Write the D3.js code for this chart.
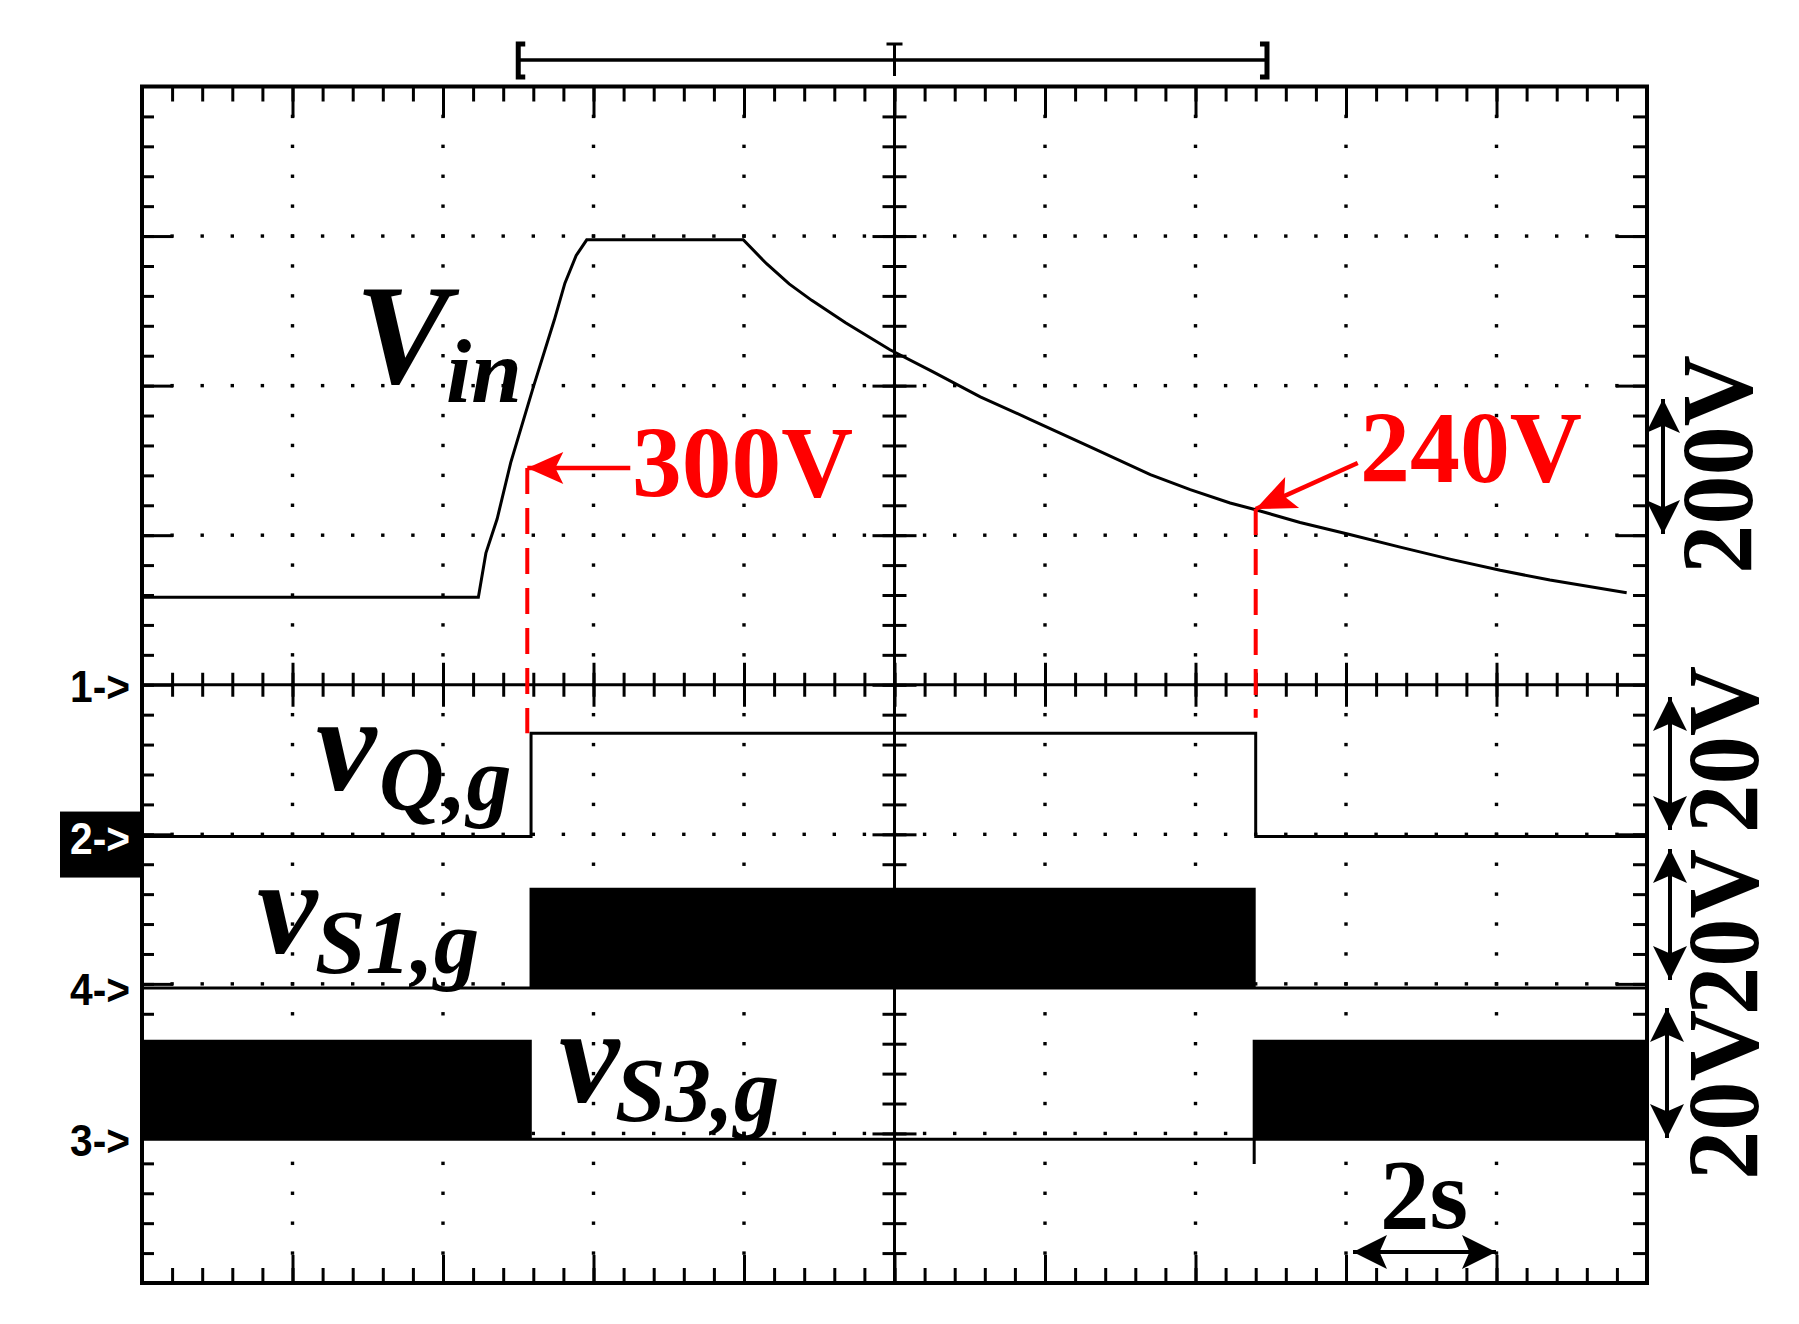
<!DOCTYPE html>
<html>
<head>
<meta charset="utf-8">
<script src="https://cdn.jsdelivr.net/npm/d3@7"></script>
<style>
  body { margin: 0; background: #fff; }
  svg { display: block; }
</style>
</head>
<body>
<svg id="scope" width="1799" height="1324"></svg>
<script>
// 数据（时间单位 s，电压单位 V）
const timeRange = [0, 20]
const vinTime = [0, 4.47, 4.57, 4.72, 4.9, 5.2, 5.48, 5.62, 5.77, 5.91, 7.99, 8.3, 8.6, 8.9, 9.35, 9.94,
  10.5, 11.14, 11.8, 12.6, 13.4, 13.93, 14.46, 14.8, 15.39, 16.05, 16.72, 17.38, 18.05, 18.71, 19.73]
const vinVolt = [117, 117, 176, 222, 297, 398, 488, 537, 574, 595, 595, 563, 536, 514, 484, 448,
  419, 385, 355, 318, 281, 261, 243, 234, 217, 201, 184, 168, 153, 140, 123]
const vqTime = [0, 5.17, 5.17, 14.8, 14.8, 20]
const vqVolt = [0, 0, 13.8, 13.8, 0, 0]
const s1Bursts = [[5.15, 14.8]]
const s1Level = 13.4
const s3Bursts = [[0, 5.18], [14.76, 20]]
const s3Level = 13.3
const s3Time = [0, 14.78, 14.78, 14.78, 20]
const s3Volt = [0, 0, -3.3, 0, 0]
const chNames = ['1->', '2->', '4->', '3->']
const chPerDiv = [200, 20, 20, 20]
const chScaleText = ['200V', '20V', '20V', '20V']
const markTime = [5.12, 14.8]
const markVolt = [290, 235]
const markEnd = [13.8, 15.9]
const markText = ['300V', '240V']
const cursorRange = [5.0, 14.95]

// 布局
const L = 142
const R = 1647
const T = 86.5
const B = 1283
const chOffset = [4, 5.015, 6.028, 7.039]
const serif = "'Liberation Serif', 'Times New Roman', serif"

const svg = d3.select('#scope')
svg.append('rect').attr('width', 1799).attr('height', 1324).attr('fill', '#fff')

const x = d3.scaleLinear().domain(timeRange).range([L, R])
const div = d3.scaleLinear().domain([0, 8]).range([T, B])
const ch = chOffset.map((o, i) => d3.scaleLinear()
  .domain([o * chPerDiv[i], (o - 8) * chPerDiv[i]])
  .range([T, B]))

// 网格
const grid = svg.append('g')
const minorT = d3.range(1, 50).map(i => i * 0.4)
const majorT = d3.range(1, 10).map(i => i * 2)
const minorD = d3.range(1, 40).map(i => i * 0.2)
const majorD = d3.range(1, 8)

majorD.filter(d => d !== 4).forEach((d) => {
  grid.selectAll(null).data(minorT).enter()
    .append('rect')
    .attr('x', t => x(t) - 1.7)
    .attr('y', div(d) - 1.7)
    .attr('width', 3.4)
    .attr('height', 3.4)
})
majorT.filter(t => t !== 10).forEach((t) => {
  grid.selectAll(null).data(minorD).enter()
    .append('rect')
    .attr('x', x(t) - 1.7)
    .attr('y', d => div(d) - 1.7)
    .attr('width', 3.4)
    .attr('height', 3.4)
})

function ticks(axis, values, size, transform) {
  grid.append('g')
    .attr('transform', transform)
    .call(axis.tickValues(values).tickSize(size).tickFormat(''))
    .call(g => g.select('.domain').remove())
    .selectAll('line')
    .attr('stroke', '#000')
    .attr('stroke-width', 3)
}
ticks(d3.axisBottom(x), minorT, 15, `translate(0,${T})`)
ticks(d3.axisBottom(x), majorT, 31, `translate(0,${T})`)
ticks(d3.axisTop(x), minorT, 15, `translate(0,${B})`)
ticks(d3.axisTop(x), majorT, 28, `translate(0,${B})`)
ticks(d3.axisRight(div), minorD, 12, `translate(${L},0)`)
ticks(d3.axisRight(div), majorD, 31, `translate(${L},0)`)
ticks(d3.axisLeft(div), minorD, 14, `translate(${R},0)`)
ticks(d3.axisLeft(div), majorD, 31, `translate(${R},0)`)
// 中心十字轴
;[d3.axisBottom, d3.axisTop].forEach((a) => {
  ticks(a(x), minorT, 12, `translate(0,${div(4)})`)
  ticks(a(x), majorT, 22, `translate(0,${div(4)})`)
})
;[d3.axisRight, d3.axisLeft].forEach((a) => {
  ticks(a(div), minorD, 12, `translate(${x(10)},0)`)
  ticks(a(div), majorD, 22, `translate(${x(10)},0)`)
})
grid.append('line')
  .attr('x1', L).attr('x2', R)
  .attr('y1', div(4)).attr('y2', div(4))
  .attr('stroke', '#000').attr('stroke-width', 3)
grid.append('line')
  .attr('x1', x(10)).attr('x2', x(10))
  .attr('y1', T).attr('y2', B)
  .attr('stroke', '#000').attr('stroke-width', 3)
grid.append('rect')
  .attr('x', L).attr('y', T)
  .attr('width', R - L).attr('height', B - T)
  .attr('fill', 'none').attr('stroke', '#000').attr('stroke-width', 4)

// 波形
const traces = svg.append('g')
const line = yScale => d3.line().x(d => x(d[0])).y(d => yScale(d[1]))

function burst(bursts, level, yScale) {
  bursts.forEach((b) => {
    traces.append('path')
      .datum(b.map(t => [t, level]))
      .attr('d', d3.area().x(d => x(d[0])).y0(yScale(0)).y1(d => yScale(d[1])))
      .attr('fill', '#000')
  })
}
burst(s1Bursts, s1Level, ch[2])
burst(s3Bursts, s3Level, ch[3])

traces.append('path')
  .datum(d3.zip(vinTime, vinVolt))
  .attr('d', line(ch[0]))
  .attr('fill', 'none').attr('stroke', '#000').attr('stroke-width', 3)
traces.append('path')
  .datum(d3.zip(vqTime, vqVolt))
  .attr('d', line(ch[1]))
  .attr('fill', 'none').attr('stroke', '#000').attr('stroke-width', 3)
traces.append('path')
  .datum([[timeRange[0], 0], [timeRange[1], 0]])
  .attr('d', line(ch[2]))
  .attr('fill', 'none').attr('stroke', '#000').attr('stroke-width', 3)
traces.append('path')
  .datum(d3.zip(s3Time, s3Volt))
  .attr('d', line(ch[3]))
  .attr('fill', 'none').attr('stroke', '#000').attr('stroke-width', 3)

// 通道标记
const marks = svg.append('g')
marks.append('rect')
  .attr('x', 60).attr('y', ch[1](0) - 25)
  .attr('width', L - 60).attr('height', 66)
  .attr('fill', '#000')
marks.selectAll('.ch-name')
  .data(chNames)
  .enter()
  .append('text')
  .attr('class', 'ch-name')
  .attr('x', 70)
  .attr('y', (d, i) => ch[i](0) + 17)
  .attr('textLength', 60)
  .attr('lengthAdjust', 'spacingAndGlyphs')
  .attr('font-family', "'Liberation Sans Narrow', 'Liberation Sans', Arial, sans-serif")
  .attr('font-weight', 'bold')
  .attr('font-size', 44)
  .attr('fill', (d, i) => (i === 1 ? '#fff' : '#000'))
  .text(d => d)

// 顶部光标括号
const cur = svg.append('g').attr('stroke', '#000').attr('fill', 'none')
const c0 = x(cursorRange[0])
const c1 = x(cursorRange[1])
cur.append('line').attr('x1', c0).attr('x2', c1).attr('y1', 60).attr('y2', 60).attr('stroke-width', 3.5)
cur.append('path').attr('d', `M${c0 + 7},44L${c0},44L${c0},77L${c0 + 7},77`).attr('stroke-width', 5)
cur.append('path').attr('d', `M${c1 - 7},44L${c1},44L${c1},77L${c1 - 7},77`).attr('stroke-width', 5)
cur.append('path').attr('d', `M${x(10) - 8},44L${x(10) + 8},44M${x(10)},43L${x(10)},76`).attr('stroke-width', 3)

// 箭头
function head(g, tx, ty, angle, len, half, color) {
  g.append('path')
    .attr('d', `M0,0L${-len},${-half}L${-len * 0.78},0L${-len},${half}Z`)
    .attr('transform', `translate(${tx},${ty}) rotate(${angle})`)
    .attr('fill', color)
}
function arrow(g, x1, y1, x2, y2, both, color, width, len, half) {
  const a = Math.atan2(y2 - y1, x2 - x1) * 180 / Math.PI
  g.append('line')
    .attr('x1', x1).attr('y1', y1)
    .attr('x2', x2).attr('y2', y2)
    .attr('stroke', color).attr('stroke-width', width)
  head(g, x2, y2, a, len, half, color)
  if (both) head(g, x1, y1, a + 180, len, half, color)
}

// 红色标注
const note = svg.append('g')
markTime.forEach((t, i) => {
  note.append('line')
    .attr('x1', x(t)).attr('x2', x(t))
    .attr('y1', ch[0](markVolt[i])).attr('y2', ch[1](markEnd[i]))
    .attr('stroke', '#ff0000').attr('stroke-width', 4)
    .attr('stroke-dasharray', '26,14')
})
const tip0 = [x(markTime[0]), ch[0](markVolt[0])]
const tip1 = [x(markTime[1]), ch[0](markVolt[1])]
arrow(note, tip0[0] + 103, tip0[1], tip0[0], tip0[1], false, '#ff0000', 4.5, 36, 16)
arrow(note, tip1[0] + 102, tip1[1] - 46, tip1[0], tip1[1], false, '#ff0000', 4.5, 40, 17)
note.selectAll('.mark-text')
  .data(markText)
  .enter()
  .append('text')
  .attr('class', 'mark-text')
  .attr('x', (d, i) => [632, 1360][i])
  .attr('y', (d, i) => [497, 482][i])
  .attr('textLength', (d, i) => [221, 222][i])
  .attr('lengthAdjust', 'spacingAndGlyphs')
  .attr('font-family', serif)
  .attr('font-weight', 'bold')
  .attr('font-size', 101)
  .attr('fill', '#ff0000')
  .text(d => d)

// 波形名称
const names = [
  { main: 'V', sub: 'in', x: 355, y: 383, sx: 446, sy: 402, size: 142, subSize: 91 },
  { main: 'v', sub: 'Q,g', x: 316, y: 790, sx: 379, sy: 810, size: 136, subSize: 90 },
  { main: 'v', sub: 'S1,g', x: 257, y: 953, sx: 315, sy: 973, size: 136, subSize: 91 },
  { main: 'v', sub: 'S3,g', x: 559, y: 1102, sx: 615, sy: 1121, size: 136, subSize: 91 }
]
const lab = svg.append('g')
  .attr('font-family', serif)
  .attr('font-weight', 'bold')
  .attr('font-style', 'italic')
names.forEach((n) => {
  lab.append('text').attr('x', n.x).attr('y', n.y).attr('font-size', n.size).text(n.main)
  lab.append('text').attr('x', n.sx).attr('y', n.sy).attr('font-size', n.subSize).text(n.sub)
})

// 刻度说明
const scale = svg.append('g')
const scaleArrows = [[1663, 399, 534], [1670, 697, 830], [1670, 849, 980], [1667, 1008, 1138]]
scaleArrows.forEach((a) => {
  arrow(scale, a[0], a[1], a[0], a[2], true, '#000', 4, 34, 17)
})
const scaleCenter = [[1752, 464.5, 219], [1758, 749.5, 167], [1758, 932, 166], [1758, 1095, 170]]
scale.selectAll('.scale-text')
  .data(chScaleText)
  .enter()
  .append('text')
  .attr('class', 'scale-text')
  .attr('transform', (d, i) => `translate(${scaleCenter[i][0]},${scaleCenter[i][1]}) rotate(-90)`)
  .attr('text-anchor', 'middle')
  .attr('textLength', (d, i) => scaleCenter[i][2])
  .attr('lengthAdjust', 'spacingAndGlyphs')
  .attr('font-family', serif)
  .attr('font-weight', 'bold')
  .attr('font-size', 102)
  .text(d => d)

arrow(scale, 1353, 1252, 1496, 1252, true, '#000', 4, 34, 17)
scale.append('text')
  .attr('x', 1380).attr('y', 1228)
  .attr('textLength', 88)
  .attr('lengthAdjust', 'spacingAndGlyphs')
  .attr('font-family', serif)
  .attr('font-weight', 'bold')
  .attr('font-size', 100)
  .text('2s')
</script>
</body>
</html>
